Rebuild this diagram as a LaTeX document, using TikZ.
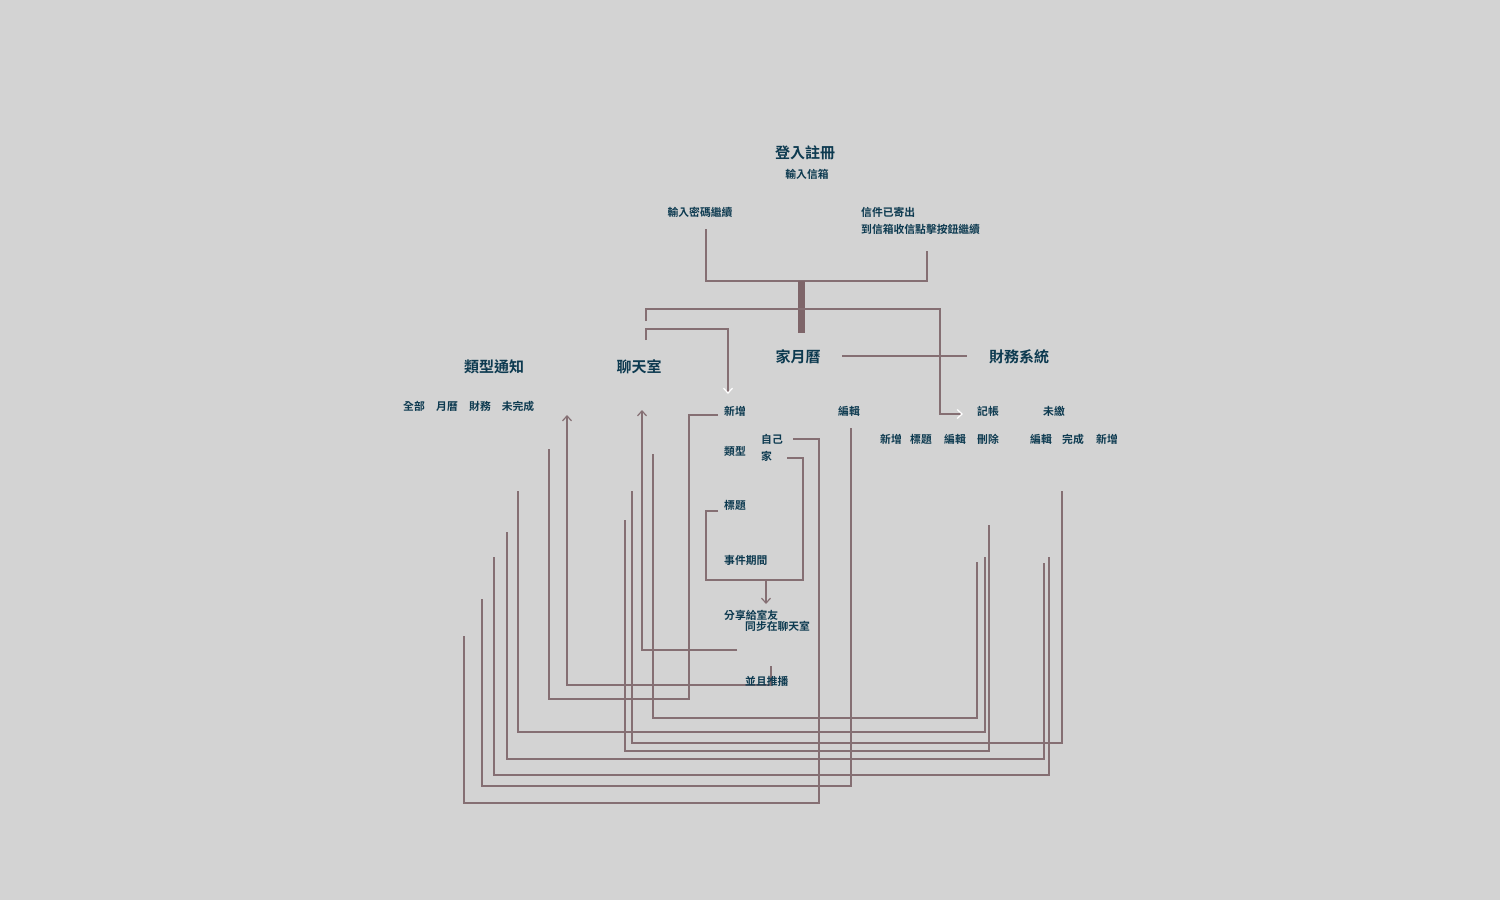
\documentclass[tikz,border=0pt]{standalone}
\usepackage{fontspec}
\newfontfamily\cjk{Noto Sans CJK TC}[BoldFont={Noto Sans CJK TC Bold}]
\usetikzlibrary{arrows.meta,backgrounds}
\definecolor{bg}{RGB}{211,211,211}
\definecolor{ln}{RGB}{133,111,115}
\definecolor{bar}{RGB}{126,101,105}
\definecolor{tx}{RGB}{13,58,80}
\tikzset{
  x=1pt,y=-1pt,
  title/.style={font=\cjk\bfseries\fontsize{15}{15}\selectfont, text=tx, inner sep=0pt, anchor=base},
  lbl/.style={font=\cjk\bfseries\fontsize{10.8}{11}\selectfont, text=tx, inner sep=0pt, anchor=base},
  lblw/.style={lbl, anchor=base west},
  conn/.style={draw=ln, line width=1.3pt},
  whitetip/.style={conn, -{Straight Barb[length=5pt,width=9pt,color=white,line width=1.2pt]}},
  linetip/.style={conn, -{Straight Barb[length=5pt,width=9pt,line width=1.2pt]}},
}
\begin{document}
\begin{tikzpicture}
\begin{scope}[on background layer]
\fill[bg] (0,0) rectangle (1500,900);
\end{scope}
\useasboundingbox (0,0) rectangle (1500,900);

% titles
\node[title] (reg) at (805,158) {登入註冊};
\node[title] (notif) at (494,372) {類型通知};
\node[title] (chat) at (639,372) {聊天室};
\node[title] (cal) at (798,362) {家月曆};
\node[title] (fin) at (1019,362) {財務系統};

% top
\node[lbl] (mail) at (807,178) {輸入信箱};
\node[lbl] (pwd) at (700,216) {輸入密碼繼續};
\node[lblw] (sent) at (861,216) {信件已寄出};
\node[lblw] (click) at (861,233) {到信箱收信點擊按鈕繼續};

% notification types
\node[lbl] (nall) at (414,410) {全部};
\node[lbl] (ncal) at (447,410) {月曆};
\node[lbl] (nfin) at (480,410) {財務};
\node[lbl] (nund) at (518,410) {未完成};

% calendar
\node[lblw] (add) at (724,415) {新增};
\node[lbl] (cedit) at (849,415) {編輯};
\node[lblw] (type) at (724,455) {類型};
\node[lblw] (self) at (761,443) {自己};
\node[lblw] (home) at (761,460) {家};
\node[lblw] (ttl) at (724,509) {標題};
\node[lblw] (period) at (724,564) {事件期間};
\node[lblw] (share) at (724,619) {分享給室友};
\node[lblw] (sync) at (745,630) {同步在聊天室};
\node[lblw] (push) at (745,685) {並且推播};

% finance
\node[lbl] (book) at (988,415) {記帳};
\node[lbl] (unpaid) at (1054,415) {未繳};
\node[lbl] (badd) at (891,443) {新增};
\node[lbl] (bttl) at (921,443) {標題};
\node[lbl] (bedit) at (955,443) {編輯};
\node[lbl] (bdel) at (988,443) {刪除};
\node[lbl] (uedit) at (1041,443) {編輯};
\node[lbl] (udone) at (1073,443) {完成};
\node[lbl] (uadd) at (1107,443) {新增};

% free ends
\coordinate (p1) at (706,229);
\coordinate (p2) at (927,251);
\coordinate (hub) at (801,281);
\coordinate (hubb) at (801,333);
\coordinate (c1) at (646,321);
\coordinate (c2) at (963,414);
\coordinate (c3) at (646,340);
\coordinate (c4) at (728,394);
\coordinate (k1) at (842,356);
\coordinate (k2) at (967,356);
\coordinate (a1) at (718,415);
\coordinate (a2) at (549,449);
\coordinate (b1) at (771,666);
\coordinate (b2) at (567,415);
\coordinate (d1) at (737,650);
\coordinate (d2) at (642,410);
\coordinate (e1) at (653,454);
\coordinate (e2) at (977,562);
\coordinate (f1) at (518,491);
\coordinate (f2) at (985,557);
\coordinate (g1) at (632,491);
\coordinate (g2) at (1062,491);
\coordinate (h1) at (625,520);
\coordinate (h2) at (989,525);
\coordinate (i1) at (507,532);
\coordinate (i2) at (1044,563);
\coordinate (j1) at (494,557);
\coordinate (j2) at (1049,557);
\coordinate (m1) at (482,599);
\coordinate (m2) at (851,428);
\coordinate (n1) at (464,636);
\coordinate (n2) at (793,439);
\coordinate (q1) at (787,458);
\coordinate (r1) at (718,511);
\coordinate (r2) at (766,604);

\begin{scope}[on background layer]
\draw[conn] (p1) |- (hub) -| (p2);
\draw[draw=bar, line width=7pt] (hub) -- (hubb);
\draw[whitetip] (c1) -- (646,309) -| (940,414) -- (c2);
\draw[whitetip] (c3) -- (646,329) -| (c4);
\draw[conn] (k1) -- (k2);
\draw[conn] (a1) -- (689,415) |- (549,699) -- (a2);
\draw[linetip] (b1) -- (771,685) -| (b2);
\draw[linetip] (d1) -| (d2);
\draw[conn] (e1) |- (977,718) -- (e2);
\draw[conn] (f1) |- (985,732) -- (f2);
\draw[conn] (g1) |- (1062,743) -- (g2);
\draw[conn] (h1) |- (989,751) -- (h2);
\draw[conn] (i1) |- (1044,759) -- (i2);
\draw[conn] (j1) |- (1049,775) -- (j2);
\draw[conn] (m1) |- (851,786) -- (m2);
\draw[conn] (n1) |- (819,803) |- (n2);
\draw[conn] (q1) -- (803,458) |- (766,580);
\draw[linetip] (r1) -- (706,511) |- (766,580) -- (r2);
\end{scope}
\end{tikzpicture}
\end{document}
